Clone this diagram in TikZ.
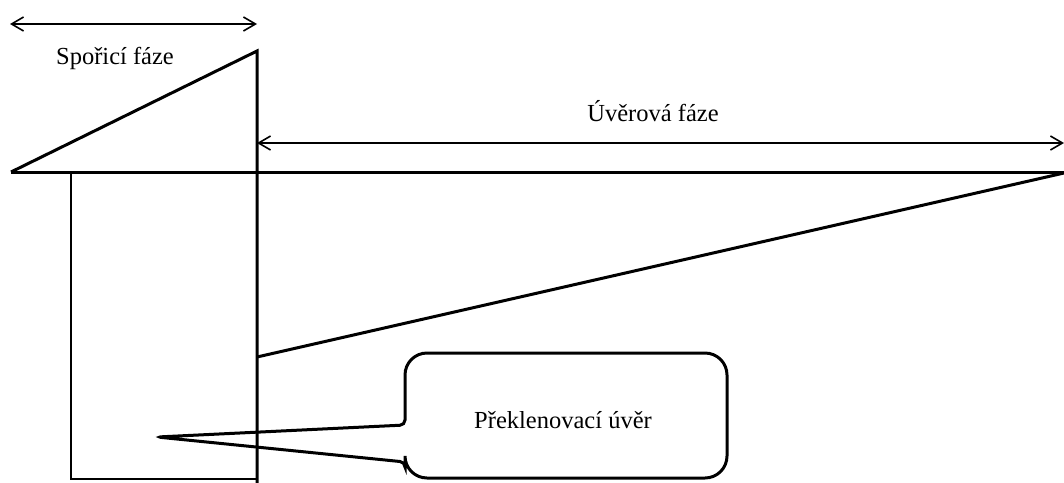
\documentclass[tikz,border=0pt]{standalone}
\usepackage{fontspec}
\setmainfont{Liberation Serif}
\usetikzlibrary{arrows.meta}
\begin{document}
\begin{tikzpicture}[x=1pt,y=-1pt,
  thickline/.style={line width=3pt},
  boxline/.style={line width=2.2pt},
  dimarrow/.style={line width=1.6pt,{Straight Barb[length=12pt,width=14pt]}-{Straight Barb[length=12pt,width=14pt]}},
  label/.style={font=\fontsize{24.5}{28}\selectfont,inner sep=0pt}]
\useasboundingbox (0,0) rectangle (1064,482);
% coordinates
\coordinate (tl) at (11,172);
\coordinate (top) at (257,51);
\coordinate (bot) at (257,484);
\coordinate (hr) at (1064,172);
\coordinate (rl) at (71,172);
\coordinate (rbl) at (71,479);
\coordinate (rbr) at (257,479);
\coordinate (dl) at (257,357);
\coordinate (dr) at (1064,173);
\coordinate (a1) at (10,24);
\coordinate (a2) at (257,24);
\coordinate (b1) at (257,143);
\coordinate (b2) at (1064,143);
% savings triangle and axis
\draw[thickline,line join=miter] (tl) -- (top) -- (bot);
\draw[thickline] (tl) -- (hr);
\draw[thickline] (dl) -- (dr);
% rectangle
\draw[boxline] (rl) -- (rbl) -- (rbr);
% dimension arrows
\draw[dimarrow] (a1) -- (a2);
\draw[dimarrow] (b1) -- (b2);
\node[label] (sporici) at (115,58) {Spořicí fáze};
\node[label] (uverova) at (653,111) {Úvěrová fáze};
% callout
\coordinate (tip) at (157,437);
\draw[thickline,rounded corners=22pt] (405,400) -- (405,353) -- (727,353) -- (727,478) -- (405,478) [rounded corners=5pt] -- (405,462) -- (tip) -- (405,425) -- (405,400);
\node[label] (prekl) at (563,420) {Překlenovací úvěr};
\end{tikzpicture}
\end{document}
